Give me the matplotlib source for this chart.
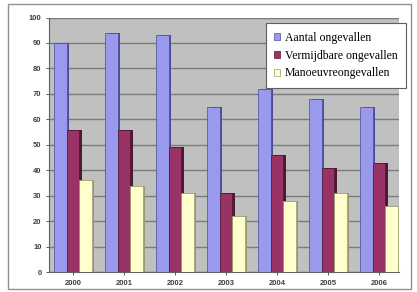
import numpy as np
import matplotlib.pyplot as plt
from matplotlib.patches import Rectangle

years = ["2000", "2001", "2002", "2003", "2004", "2005", "2006"]
aantal = [90, 94, 93, 65, 72, 68, 65]
vermijdbaar = [56, 56, 49, 31, 46, 41, 43]
manoeuvre = [36, 34, 31, 22, 28, 31, 26]
labels = ["Aantal ongevallen", "Vermijdbare ongevallen", "Manoeuvreongevallen"]

colors = ["#9999ee", "#993366", "#ffffcc"]
sides = ["#4b4b9a", "#4d1933", "#9a9a70"]

fig = plt.figure(figsize=(4.17, 2.92), dpi=100)
fig.patches.append(Rectangle((0.02, 0.01), 0.965, 0.975, transform=fig.transFigure,
                             fill=False, edgecolor="#909090", lw=1))
ax = fig.add_axes([0.118, 0.068, 0.84, 0.872])
ax.set_facecolor("#c0c0c0")

x = np.arange(len(years))
w = 0.245
for i, (vals, c, s, lab) in enumerate(zip([aantal, vermijdbaar, manoeuvre], colors, sides, labels)):
    pos = x + (i - 1) * w
    # shadow to fake the 3d side face
    ax.bar(pos + 0.05, vals, w, bottom=0, color=s, zorder=2, lw=0)
    ax.bar(pos, vals, w, color=c, edgecolor=s, lw=0.5, zorder=3, label=lab)

ax.set_ylim(0, 100)
ax.set_xlim(-0.47, 6.4)
ax.set_yticks(range(0, 101, 10))
ax.set_xticks(x)
ax.set_xticklabels(years)
ax.yaxis.grid(True, color="#7a7a7a", lw=1)
ax.set_axisbelow(True)
for sp in ["top", "right"]:
    ax.spines[sp].set_visible(False)
ax.spines["left"].set_color("#606060")
ax.spines["bottom"].set_color("#606060")
ax.tick_params(labelsize=5.5, colors="#404040", length=2, width=0.6)
for t in ax.get_xticklabels() + ax.get_yticklabels():
    t.set_fontfamily("Liberation Sans")
    t.set_fontweight("bold")

leg = ax.legend(loc="upper right", bbox_to_anchor=(1.035, 1.0),
                prop={"family": "Liberation Serif", "size": 8.5},
                frameon=True, fancybox=False, edgecolor="#606060", framealpha=1,
                handlelength=0.5, handleheight=0.5, handletextpad=0.4,
                labelspacing=0.5, borderpad=0.7)
leg.get_frame().set_linewidth(0.8)

fig.savefig("out.png", dpi=100)
